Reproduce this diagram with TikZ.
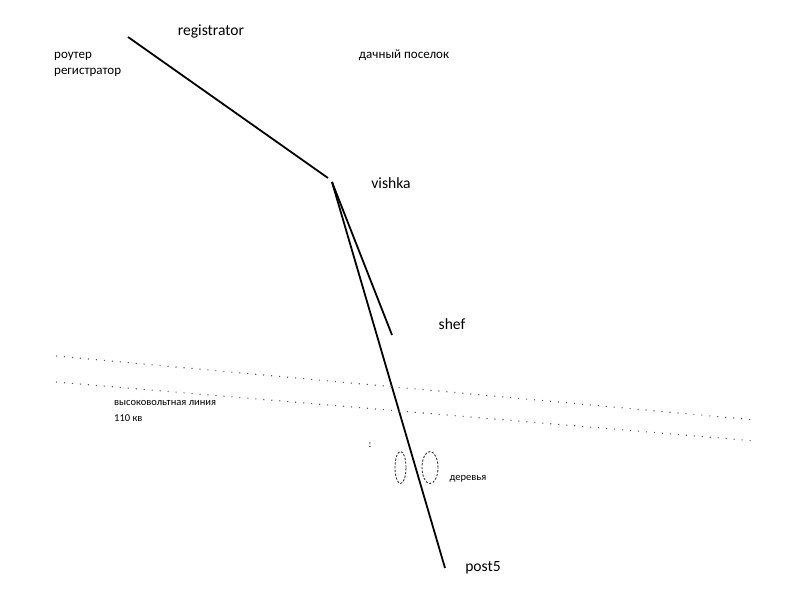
\documentclass[tikz,border=0pt]{standalone}
\usepackage{fontspec}
\usetikzlibrary{shapes.geometric}
\setmainfont{Carlito}
\begin{document}
\begin{tikzpicture}[x=1pt,y=-1pt,
  wire/.style={line width=1.8pt, black},
  hv/.style={line width=1.1pt, gray!70!black, dash pattern=on 1.1pt off 6.9pt},
  tree/.style={line width=0.9pt, dash pattern=on 2.2pt off 1.6pt, black!80},
  big/.style={inner sep=0pt, font=\fontsize{15.6}{18}\selectfont},
  mid/.style={inner sep=0pt, font=\fontsize{13}{15}\selectfont, anchor=west},
  small/.style={inner sep=0pt, font=\fontsize{10.5}{13}\selectfont}]
\useasboundingbox[fill=white] (0,0) rectangle (800,600);
% wires
\coordinate (r1) at (128,37);
\coordinate (r2) at (328,178);
\coordinate (v) at (332,182);
\coordinate (s) at (392,335);
\coordinate (p) at (445,568);
\draw[wire] (r1) -- (r2);
\draw[wire] (v) -- (s);
\draw[wire] (v) -- (p);
% high voltage line
\coordinate (h1a) at (56,356);
\coordinate (h1b) at (755,420);
\coordinate (h2a) at (56,382);
\coordinate (h2b) at (755,441);
\draw[hv] (h1a) -- (h1b);
\draw[hv] (h2a) -- (h2b);
% trees
\node[tree, draw, ellipse, minimum width=11pt, minimum height=32pt, inner sep=0pt] (t1) at (400.5,467.5) {};
\node[tree, draw, ellipse, minimum width=16pt, minimum height=32pt, inner sep=0pt] (t2) at (430,467.5) {};
% labels
\node[big] (lreg) at (211,31) {registrator};
\node[mid] (lrout1) at (54,56) {роутер};
\node[mid] (lrout2) at (54,72) {регистратор};
\node[mid, anchor=center] (ldacha) at (404,55) {дачный поселок};
\node[big] (lvishka) at (391,183) {vishka};
\node[big] (lshef) at (452,324) {shef};
\node[big] (lpost) at (483,568) {post5};
\node[small, anchor=west] (lhv1) at (114,403) {высоковольтная линия};
\node[small, anchor=west] (lhv2) at (114,418) {110 кв};
\node[small] (ltrees) at (468,479) {деревья};
\node[small] (lcolon) at (370,445) {:};
\end{tikzpicture}
\end{document}
